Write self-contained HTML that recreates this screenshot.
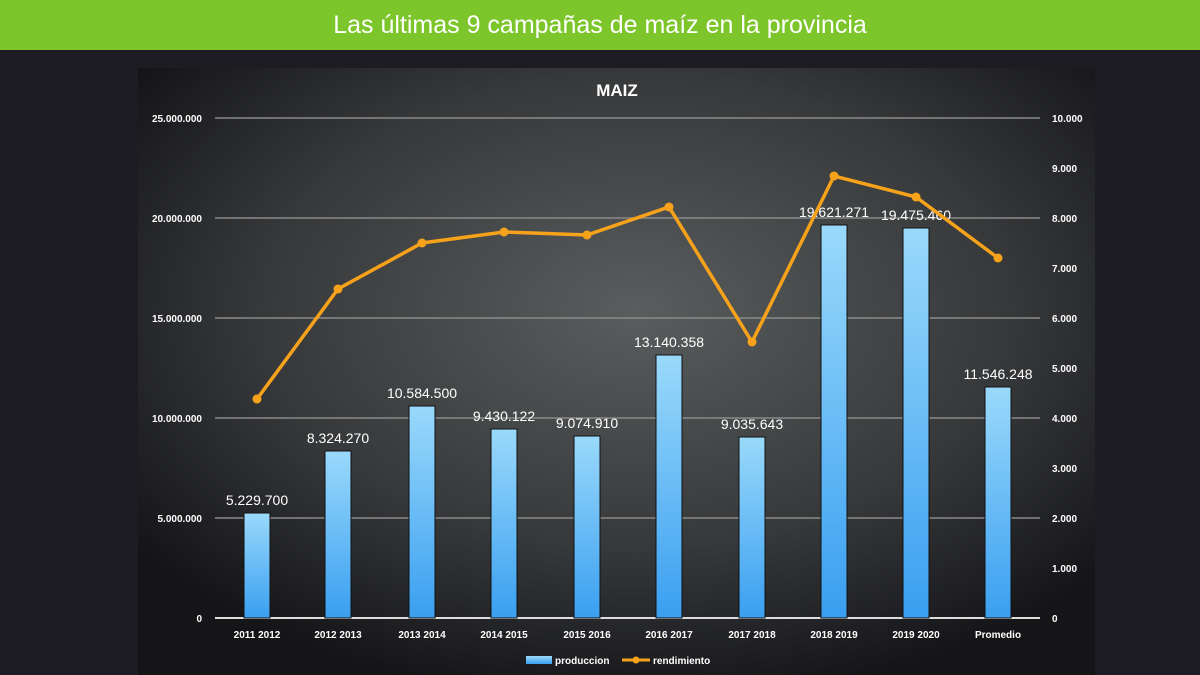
<!DOCTYPE html>
<html><head><meta charset="utf-8"><style>
body{margin:0;width:1200px;height:675px;background:#1c1c22;overflow:hidden;font-family:"Liberation Sans",sans-serif}
.hdr{position:absolute;left:0;top:0;width:1200px;height:50px;background:#7cc52a;color:#fff;font-size:25px;text-align:center;line-height:50px}
svg{position:absolute;left:0;top:0}
</style></head><body>
<div class="hdr">Las últimas 9 campañas de maíz en la provincia</div>
<svg width="1200" height="675" font-family="Liberation Sans, sans-serif">
<defs>
<radialGradient id="bg" cx="0.52" cy="0.4" r="0.65">
<stop offset="0" stop-color="#5a5d5e"/><stop offset="0.6" stop-color="#36383a"/><stop offset="1" stop-color="#151518"/></radialGradient>
<linearGradient id="bar" x1="0" y1="0" x2="0" y2="1"><stop offset="0" stop-color="#9ad9fb"/><stop offset="1" stop-color="#3a9ff0"/></linearGradient>
</defs>
<rect x="138" y="68" width="957" height="607" fill="url(#bg)"/>
<g stroke="#8a8a8a" stroke-width="1.5">
<line x1="215" y1="118" x2="1040" y2="118"/><line x1="215" y1="218" x2="1040" y2="218"/><line x1="215" y1="318" x2="1040" y2="318"/><line x1="215" y1="418" x2="1040" y2="418"/><line x1="215" y1="518" x2="1040" y2="518"/>
</g>
<line x1="215" y1="618" x2="1040" y2="618" stroke="#ddd" stroke-width="2"/>
<text x="617" y="96" fill="#fff" font-size="17" font-weight="bold" text-anchor="middle">MAIZ</text>
<g fill="#fff" font-size="10" font-weight="bold" text-anchor="end">
<text x="202" y="122">25.000.000</text><text x="202" y="222">20.000.000</text><text x="202" y="322">15.000.000</text><text x="202" y="422">10.000.000</text><text x="202" y="522">5.000.000</text><text x="202" y="622">0</text>
</g>
<g fill="#fff" font-size="10" font-weight="bold">
<text x="1052" y="122">10.000</text><text x="1052" y="172">9.000</text><text x="1052" y="222">8.000</text><text x="1052" y="272">7.000</text><text x="1052" y="322">6.000</text><text x="1052" y="372">5.000</text><text x="1052" y="422">4.000</text><text x="1052" y="472">3.000</text><text x="1052" y="522">2.000</text><text x="1052" y="572">1.000</text><text x="1052" y="622">0</text>
</g>
<g fill="url(#bar)" stroke="#111" stroke-width="1">
<rect x="244" y="513" width="26" height="105"/>
<rect x="325" y="451" width="26" height="167"/>
<rect x="409" y="406" width="26" height="212"/>
<rect x="491" y="429" width="26" height="189"/>
<rect x="574" y="436" width="26" height="182"/>
<rect x="656" y="355" width="26" height="263"/>
<rect x="739" y="437" width="26" height="181"/>
<rect x="821" y="225" width="26" height="393"/>
<rect x="903" y="228" width="26" height="390"/>
<rect x="985" y="387" width="26" height="231"/>
</g>
<g fill="#fff" font-size="14" text-anchor="middle">
<text x="257" y="505">5.229.700</text><text x="338" y="443">8.324.270</text><text x="422" y="398">10.584.500</text><text x="504" y="421">9.430.122</text><text x="587" y="428">9.074.910</text><text x="669" y="347">13.140.358</text><text x="752" y="429">9.035.643</text><text x="834" y="217">19.621.271</text><text x="916" y="220">19.475.460</text><text x="998" y="379">11.546.248</text>
</g>
<polyline fill="none" stroke="#f7a21b" stroke-width="3.5" points="257,399 338,289 422,243 504,232 587,235 669,207 752,342 834,176 916,197 998,258"/>
<g fill="#f7a21b">
<circle cx="257" cy="399" r="4.5"/><circle cx="338" cy="289" r="4.5"/><circle cx="422" cy="243" r="4.5"/><circle cx="504" cy="232" r="4.5"/><circle cx="587" cy="235" r="4.5"/><circle cx="669" cy="207" r="4.5"/><circle cx="752" cy="342" r="4.5"/><circle cx="834" cy="176" r="4.5"/><circle cx="916" cy="197" r="4.5"/><circle cx="998" cy="258" r="4.5"/>
</g>
<g fill="#fff" font-size="10" font-weight="bold" text-anchor="middle">
<text x="257" y="638">2011 2012</text><text x="338" y="638">2012 2013</text><text x="422" y="638">2013 2014</text><text x="504" y="638">2014 2015</text><text x="587" y="638">2015 2016</text><text x="669" y="638">2016 2017</text><text x="752" y="638">2017 2018</text><text x="834" y="638">2018 2019</text><text x="916" y="638">2019 2020</text><text x="998" y="638">Promedio</text>
</g>
<rect x="526" y="656" width="26" height="8" fill="url(#bar)"/>
<text x="555" y="664" fill="#fff" font-size="10" font-weight="bold">produccion</text>
<line x1="622" y1="660" x2="650" y2="660" stroke="#f7a21b" stroke-width="3"/>
<circle cx="636" cy="660" r="3.5" fill="#f7a21b"/>
<text x="653" y="664" fill="#fff" font-size="10" font-weight="bold">rendimiento</text>
</svg>
</body></html>
